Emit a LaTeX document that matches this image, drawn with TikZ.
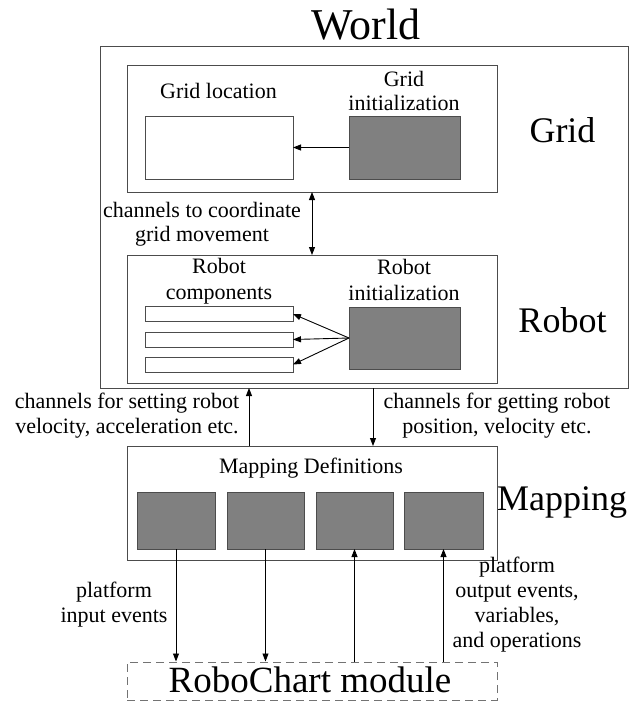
\documentclass[tikz,border=0pt]{standalone}
\usepackage{fontspec}
\setmainfont{Liberation Serif}
\usetikzlibrary{arrows.meta}
\begin{document}
\begin{tikzpicture}[x=1pt,y=-1pt,
  frame/.style={draw=black!70, line width=1pt, inner sep=0pt, outer sep=0pt},
  whitebox/.style={frame, fill=white},
  graybox/.style={frame, fill=black!50},
  dashbox/.style={draw=black!55, line width=1pt, dash pattern=on 8pt off 5pt, inner sep=0pt},
  lbl/.style={font=\fontsize{22}{25}\selectfont, align=center, inner sep=0pt, anchor=base},
  big/.style={font=\fontsize{36}{40}\selectfont, inner sep=0pt, anchor=base},
  huge/.style={font=\fontsize{44}{50}\selectfont, inner sep=0pt, anchor=base},
  conn/.style={draw=black, line width=0.9pt, -{Triangle[length=8pt,width=6pt]}},
  dconn/.style={draw=black, line width=0.9pt, {Triangle[length=8pt,width=6pt]}-{Triangle[length=8pt,width=6pt]}}
]
\useasboundingbox (0,0) rectangle (629,702);

% world container and title
\node[frame, minimum width=528pt, minimum height=342pt] (world) at (364,217) {};
\node[huge] (worldtitle) at (366,39) {World};

% grid part (multi-line labels are placed by the baseline of their last line)
\node[frame, minimum width=370pt, minimum height=127pt] (grid) at (312,128.5) {};
\node[whitebox, minimum width=148pt, minimum height=63pt] (gridloc) at (219,147.5) {};
\node[graybox, minimum width=111pt, minimum height=63pt] (gridinit) at (404.5,147.5) {};
\node[lbl] (gridloclbl) at (218.5,98) {Grid location};
\node[lbl] (gridinitlbl) at (404,110) {Grid\\[-1pt]initialization};
\node[big] (gridlbl) at (562.5,142) {Grid};
\draw[conn] (gridinit.west) -- (gridloc.east);

% robot part
\node[frame, minimum width=370pt, minimum height=128pt] (robot) at (312,319) {};
\node[whitebox, minimum width=148pt, minimum height=15pt] (bar1) at (219,314) {};
\node[whitebox, minimum width=148pt, minimum height=15pt] (bar2) at (219,339.5) {};
\node[whitebox, minimum width=148pt, minimum height=15pt] (bar3) at (219,364.5) {};
\node[graybox, minimum width=111pt, minimum height=62pt] (robotinit) at (404.5,338) {};
\node[lbl] (robotcomplbl) at (219,299) {Robot\\[1pt]components};
\node[lbl] (robotinitlbl) at (404,300) {Robot\\[1pt]initialization};
\node[big] (robotlbl) at (562.5,332) {Robot};
\draw[conn] (robotinit.west) -- (bar1.east);
\draw[conn] (robotinit.west) -- (bar2.east);
\draw[conn] (robotinit.west) -- (bar3.east);

% channel between grid and robot
\coordinate (xa) at (312,0);
\draw[dconn] (grid.south -| xa) -- (robot.north -| xa);
\node[lbl] (coordlbl) at (202,241) {channels to coordinate\\[-1pt]grid movement};

% mapping part
\node[frame, minimum width=370pt, minimum height=114pt] (mapping) at (312,503) {};
\node[lbl] (mapdeflbl) at (311,473) {Mapping Definitions};
\node[graybox, minimum width=78pt, minimum height=57pt] (m1) at (176,520.5) {};
\node[graybox, minimum width=77pt, minimum height=57pt] (m2) at (265.5,520.5) {};
\node[graybox, minimum width=77pt, minimum height=57pt] (m3) at (354.5,520.5) {};
\node[graybox, minimum width=79pt, minimum height=57pt] (m4) at (443.5,520.5) {};
\node[big, anchor=base west] (mappinglbl) at (497,510) {Mapping};

% channels between world and mapping
\coordinate (xb) at (249,0);
\coordinate (xc) at (373,0);
\draw[conn] (mapping.north -| xb) -- (world.south -| xb);
\draw[conn] (world.south -| xc) -- (mapping.north -| xc);
\node[lbl] (setlbl) at (127,433) {channels for setting robot\\velocity, acceleration etc.};
\node[lbl] (getlbl) at (497,433) {channels for getting robot\\position, velocity etc.};

% robochart module
\node[dashbox, minimum width=370pt, minimum height=38pt] (rc) at (312,681) {};
\node[font=\fontsize{37}{40}\selectfont, inner sep=0pt, anchor=base] (rclbl) at (310,692) {RoboChart module};
\draw[conn] (m1.south) -- (m1.south |- rc.north);
\draw[conn] (m2.south) -- (m2.south |- rc.north);
\draw[conn] (m3.south |- rc.north) -- (m3.south);
\draw[conn] (m4.south |- rc.north) -- (m4.south);
\node[lbl] (inlbl) at (114,622) {platform\\input events};
\node[lbl] (outlbl) at (517,647) {platform\\output events,\\variables,\\and operations};
\end{tikzpicture}
\end{document}
